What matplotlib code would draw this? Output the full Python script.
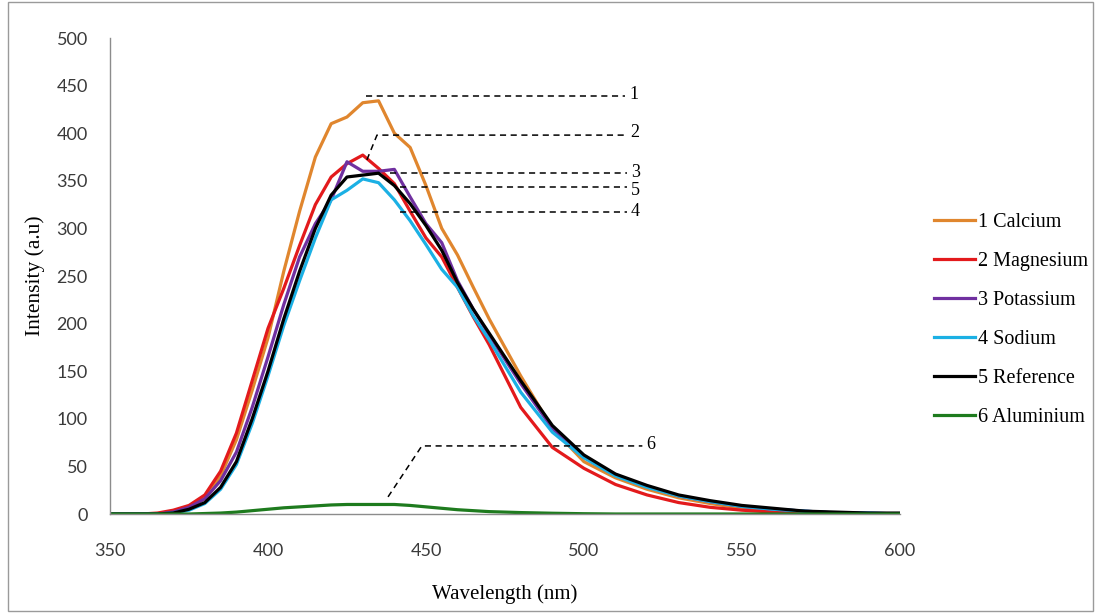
import matplotlib.pyplot as plt
from matplotlib.patches import Rectangle

# Emission spectra
wavelength = [350, 355, 360, 365, 370, 375, 380, 385, 390, 395, 400, 405, 410, 415,
              420, 425, 430, 435, 440, 445, 450, 455, 460, 465, 470, 480, 490, 500,
              510, 520, 530, 540, 550, 560, 570, 580, 590, 600]

calcium = [0, 0, 0, 0, 1, 6, 17, 40, 78, 130, 185, 255, 318, 375,
           410, 417, 432, 434, 400, 385, 345, 300, 272, 238, 205, 145, 90, 55,
           38, 26, 17, 11, 6, 3, 1, 0, 0, 0]
magnesium = [0, 0, 0, 1, 4, 9, 20, 45, 85, 140, 195, 237, 282, 325,
             354, 368, 377, 363, 347, 318, 290, 270, 238, 207, 178, 112, 70, 48,
             31, 20, 12, 7, 4, 2, 1, 0, 0, 0]
potassium = [0, 0, 0, 0, 2, 7, 16, 35, 65, 112, 165, 220, 270, 305,
             330, 370, 360, 360, 362, 333, 305, 285, 245, 215, 188, 137, 90, 60,
             41, 29, 19, 13, 8, 5, 3, 1, 1, 0]
sodium = [0, 0, 0, 0, 1, 4, 11, 26, 52, 95, 145, 198, 245, 290,
          330, 340, 352, 348, 330, 308, 283, 257, 238, 208, 183, 128, 86, 59,
          40, 28, 19, 13, 8, 5, 3, 1, 1, 0]
reference = [0, 0, 0, 0, 1, 5, 12, 28, 55, 100, 150, 205, 255, 300,
             335, 354, 356, 358, 345, 326, 303, 277, 243, 215, 190, 140, 93, 62,
             42, 30, 20, 14, 9, 6, 3, 2, 1, 1]
aluminium = [0, 0, 0, 0, 0, 0, 0.5, 1, 2, 3.5, 5, 6.5, 7.5, 8.5,
             9.5, 10, 10, 10, 10, 9, 7.5, 6, 4.5, 3.5, 2.5, 1.5, 0.8, 0.3,
             0, 0, 0, 0, 0, 0, 0, 0, 0, 0]

series = [
    ("1 Calcium", calcium, "#E0862E"),
    ("2 Magnesium", magnesium, "#E31A1C"),
    ("3 Potassium", potassium, "#7030A0"),
    ("4 Sodium", sodium, "#1BB0E4"),
    ("5 Reference", reference, "#000000"),
    ("6 Aluminium", aluminium, "#1E7B1E"),
]

# leader lines: (points along the dashed line, label, label y)
leaders = [
    ([(431, 439), (513, 439)], "1", 441),
    ([(431.3, 372), (434.5, 398), (513.5, 398)], "2", 401),
    ([(438.6, 358), (513.5, 358)], "3", 359),
    ([(441.8, 343), (513.5, 343)], "5", 340),
    ([(441.8, 317), (513.5, 317)], "4", 318),
    ([(438, 18), (448.7, 71.5), (518.5, 71.5)], "6", 73),
]

serif = "Liberation Serif"

fig = plt.figure(figsize=(10.96, 6.13), dpi=100)
ax = fig.add_axes([0.1004, 0.1615, 0.7206, 0.7765])

for label, values, color in series:
    ax.plot(wavelength, values, color=color, lw=2.3, label=label)

for pts, num, ty in leaders:
    xs = [p[0] for p in pts]
    ys = [p[1] for p in pts]
    ax.plot(xs, ys, color="black", lw=1.1, ls=(0, (4, 3)))
    ax.text(xs[-1] + 1.3, ty, num, fontsize=13, family=serif,
            va="center", ha="left")

ax.set_xlim(350, 600)
ax.set_ylim(0, 500)
ax.set_xticks(range(350, 601, 50))
ax.set_yticks(range(0, 501, 50))
ax.tick_params(length=0, labelsize=13, colors="#3a3a3a")
ax.tick_params(axis="x", pad=21)
ax.tick_params(axis="y", pad=16)
for t in ax.get_xticklabels() + ax.get_yticklabels():
    t.set_family("Lato")

for side in ["top", "right"]:
    ax.spines[side].set_visible(False)
for side in ["left", "bottom"]:
    ax.spines[side].set_color("#8c8c8c")
    ax.spines[side].set_linewidth(1)

ax.set_xlabel("Wavelength (nm)", fontsize=15, family=serif, labelpad=18)
ax.set_ylabel("Intensity (a.u)", fontsize=15.5, family=serif, labelpad=8)

fig.legend(loc="center left", bbox_to_anchor=(0.836, 0.478), frameon=False,
           prop={"family": serif, "size": 14.5}, handlelength=2.0,
           handletextpad=0.15, labelspacing=0.98)

fig.patches.append(Rectangle((0.007, 0.004), 0.99, 0.992, transform=fig.transFigure,
                             fill=False, edgecolor="#9a9a9a", lw=1))

fig.savefig("out.png", dpi=100)
